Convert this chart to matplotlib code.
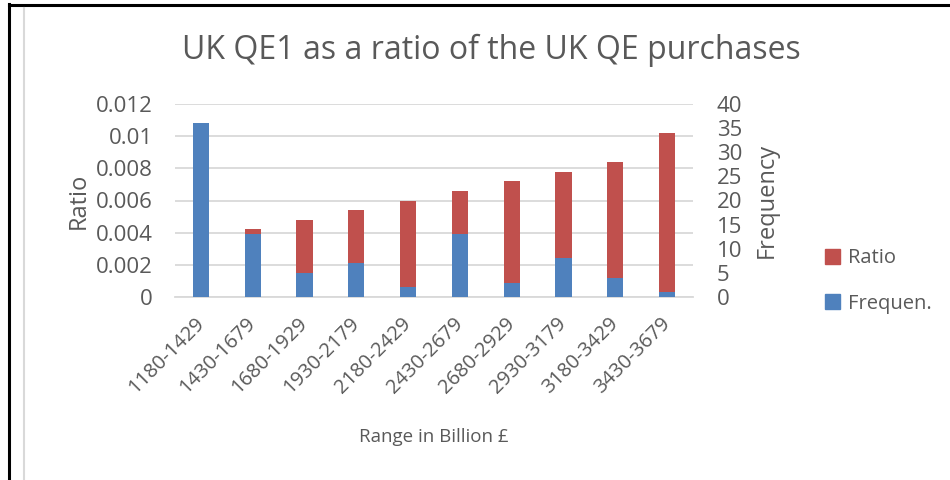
import matplotlib
matplotlib.use("Agg")
import matplotlib.pyplot as plt
from matplotlib.patches import Patch
from matplotlib.lines import Line2D
from matplotlib.transforms import ScaledTranslation
import numpy as np

categories = ["1180-1429", "1430-1679", "1680-1929", "1930-2179", "2180-2429",
              "2430-2679", "2680-2929", "2930-3179", "3180-3429", "3430-3679"]
ratio = [0.0036, 0.0042, 0.0048, 0.0054, 0.0060, 0.0066, 0.0072, 0.0078, 0.0084, 0.0102]
frequency = [36, 13, 5, 7, 2, 13, 3, 8, 4, 1]
ratio_ticks = [0, 0.002, 0.004, 0.006, 0.008, 0.01, 0.012]
ratio_tick_labels = ["0", "0.002", "0.004", "0.006", "0.008", "0.01", "0.012"]
freq_ticks = [0, 5, 10, 15, 20, 25, 30, 35, 40]

RED = "#C0504D"
BLUE = "#4F81BD"
TEXT = "#595959"
GRID = "#D9D9D9"
plt.rcParams["font.family"] = ["Open Sans", "DejaVu Sans"]

fig = plt.figure(figsize=(9.5, 4.8), dpi=100)
W, H = 950, 480

# frame lines around the chart
fig.add_artist(Line2D([9 / W, 9 / W], [0, 1 - 4 / H], color="black", lw=2.2))
fig.add_artist(Line2D([9 / W, 1], [1 - 5 / H, 1 - 5 / H], color="black", lw=2.2))
fig.add_artist(Line2D([24 / W, 24 / W], [0, 1 - 8 / H], color="#D9D9D9", lw=1.5))

left, right, top, bottom = 175, 693, 104, 297
ax = fig.add_axes([left / W, 1 - bottom / H, (right - left) / W, (bottom - top) / H])
ax2 = ax.twinx()

x = np.arange(len(categories))
bw = 0.315
ax.bar(x, ratio, width=bw, color=RED, zorder=2)
ax2.bar(x, frequency, width=bw, color=BLUE, zorder=2)

ax.set_xlim(-0.5, len(categories) - 0.5)
ax.set_ylim(0, 0.012)
ax2.set_ylim(0, 40)
ax.set_yticks(ratio_ticks)
ax.set_yticklabels(ratio_tick_labels)
ax2.set_yticks(freq_ticks)
ax.yaxis.grid(True, color=GRID, lw=1.3, zorder=0)
ax.set_axisbelow(True)

for a in (ax, ax2):
    for s in a.spines.values():
        s.set_visible(False)
    a.tick_params(length=0, colors=TEXT)
ax.spines["bottom"].set_visible(True)
ax.spines["bottom"].set_color(GRID)
ax.spines["bottom"].set_linewidth(1.3)

ax.set_xticks(x)
ax.set_xticklabels(categories, rotation=45, ha="right", va="top", rotation_mode="anchor")
ax.tick_params(axis="x", pad=12, labelsize=14.5)
ax.tick_params(axis="y", pad=16, labelsize=16)
ax2.tick_params(axis="y", pad=17, labelsize=16)
shift = ScaledTranslation(-7 / 100, 0, fig.dpi_scale_trans)
for lbl in ax.get_xticklabels():
    lbl.set_transform(lbl.get_transform() + shift)

ax.set_ylabel("Ratio", color=TEXT, fontsize=17, labelpad=4)
ax2.set_ylabel("Frequency", color=TEXT, fontsize=17, labelpad=9)
ax.set_xlabel("Range in Billion £", color=TEXT, fontsize=13.5, labelpad=22)
fig.text(491 / W, 1 - 50 / H, "UK QE1 as a ratio of the UK QE purchases", ha="center",
         va="center", color=TEXT, fontsize=23)

handles = [Patch(color=RED, label="Ratio"), Patch(color=BLUE, label="Frequen.")]
fig.legend(handles=handles, loc="center left", bbox_to_anchor=(807 / W, 1 - 281 / H),
           frameon=False, fontsize=14.5, labelcolor=TEXT, handlelength=0.75,
           handleheight=0.75, handletextpad=0.4, labelspacing=1.25)

fig.savefig("out.png", dpi=100, facecolor="white")
